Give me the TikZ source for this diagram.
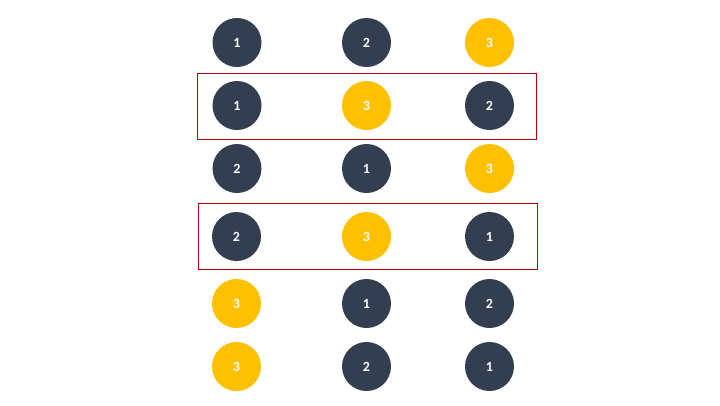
\documentclass[tikz,border=0pt]{standalone}
\usepackage{fontspec}
\setmainfont{Carlito}
\definecolor{navy}{HTML}{333F50}
\definecolor{gold}{HTML}{FFC000}
\definecolor{boxred}{HTML}{C00000}
\begin{document}
\begin{tikzpicture}[x=1pt,y=-1pt,
  dot/.style={circle,minimum size=49pt,inner sep=0pt,text=white,font=\bfseries\fontsize{14}{14}\selectfont},
  dk/.style={dot,fill=navy},
  yl/.style={dot,fill=gold},
  frame/.style={draw=boxred,line width=0.9pt}]
\useasboundingbox (0,0) rectangle (720,405);
\fill[white] (0,0) rectangle (720,405);
% row 1
\node[dk] (a1) at (237,42.5) {1};
\node[dk] (b1) at (366.5,42.5) {2};
\node[yl] (c1) at (489.5,42.5) {3};
% row 2
\node[dk] (a2) at (237,105.5) {1};
\node[yl] (b2) at (366.5,105.5) {3};
\node[dk] (c2) at (489.5,105.5) {2};
% row 3
\node[dk] (a3) at (237,168.5) {2};
\node[dk] (b3) at (366.5,168.5) {1};
\node[yl] (c3) at (489.5,168.5) {3};
% row 4
\node[dk] (a4) at (236.5,236.5) {2};
\node[yl] (b4) at (366.5,236.5) {3};
\node[dk] (c4) at (489.5,236.5) {1};
% row 5
\node[yl] (a5) at (236.5,303.5) {3};
\node[dk] (b5) at (366.5,303.5) {1};
\node[dk] (c5) at (489.5,303.5) {2};
% row 6
\node[yl] (a6) at (236.5,366.5) {3};
\node[dk] (b6) at (366.5,366.5) {2};
\node[dk] (c6) at (489.5,366.5) {1};
% frames
\draw[frame] (197.3,73.3) rectangle (536.7,139);
\draw[frame] (198.3,203.3) rectangle (537.3,269);
\end{tikzpicture}
\end{document}
